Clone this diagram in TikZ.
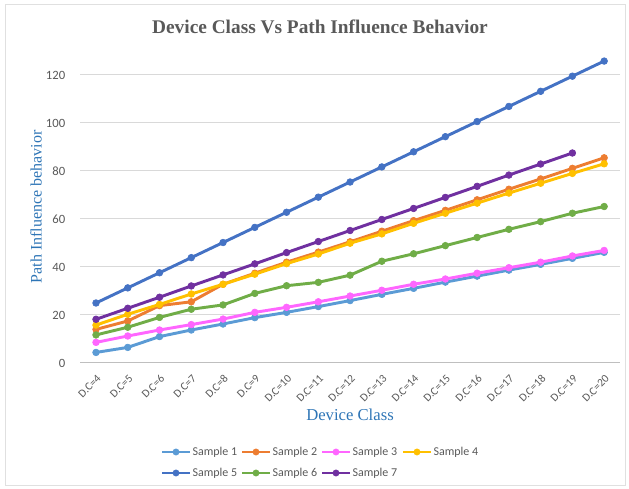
\documentclass[tikz,border=0pt]{standalone}
\usepackage{fontspec}
\setmainfont{Liberation Serif}
\newfontfamily\calibri{Carlito}

\definecolor{cinza}{HTML}{595959}
\definecolor{azultexto}{HTML}{2E75B6}
\definecolor{amostraA}{HTML}{5B9BD5}
\definecolor{amostraB}{HTML}{ED7D31}
\definecolor{amostraC}{HTML}{FF66FF}
\definecolor{amostraD}{HTML}{FFC000}
\definecolor{amostraE}{HTML}{4472C4}
\definecolor{amostraF}{HTML}{70AD47}
\definecolor{amostraG}{HTML}{7030A0}

\begin{document}
\begin{tikzpicture}[x=0.75pt,y=0.75pt,
		grade/.style={draw=black!15,line width=0.75pt},
		serie/.style={line width=2.2pt,line join=round,mark=*,mark size=2.5pt,
			mark options={line width=0.5pt}},
		rotulo/.style={font=\calibri\fontsize{9.5}{11}\selectfont,text=cinza},
		eixo/.style={font=\fontsize{12.5}{14}\selectfont,text=azultexto}]
			% Moldura do gráfico
			\useasboundingbox (0,0) rectangle (629,489);
			\draw[black!12,line width=0.75pt] (5,3) rectangle (625,484);
			
			% Título
			\node[font=\bfseries\fontsize{14.5}{17}\selectfont,text=cinza] (titulo) at (320,462)
				{Device Class Vs Path Influence Behavior};
			
			% Rótulos dos eixos
			\node[eixo,font=\fontsize{12}{14}\selectfont,rotate=90] (eixoy) at (36,282) {Path Influence behavior};
			\node[eixo] (eixox) at (350,74) {Device Class};
			
			% Área dos dados: uma unidade por classe, 2.4 px por unidade de valor
			\begin{scope}[shift={(72pt,94.5pt)},x=23.82pt,y=1.8pt]
				% Linhas de grade e valores
				\foreach \v in {20,40,...,120}
					\draw[grade] (-0.5,\v) -- (16.5,\v);
				\draw[black!25,line width=0.75pt] (-0.5,0) -- (16.5,0);
				\foreach \v in {0,20,...,120}
					\node[rotulo,anchor=east] (yt\v) at (-0.82,\v) {\v};
				
				% Classes no eixo x
				\foreach \i [evaluate=\i as \dc using int(\i+4)] in {0,...,16}
					\node[rotulo,font=\calibri\fontsize{8.5}{10}\selectfont,rotate=45,anchor=east,inner sep=0pt]
						(xt\i) at (\i+0.1,-5.8) {D.C=\dc};
				
				% Sample 1
				\draw[serie,amostraA] plot coordinates {(0,4.4) (1,6.5) (2,11.0) (3,13.75) (4,16.25)
					(5,18.9) (6,21.1) (7,23.5) (8,26.0) (9,28.6) (10,31.1) (11,33.7) (12,36.2)
					(13,38.7) (14,41.1) (15,43.6) (16,46.1)};
				% Sample 2
				\draw[serie,amostraB] plot coordinates {(0,14.0) (1,17.5) (2,23.9) (3,25.5) (4,32.8)
					(5,37.4) (6,42.0) (7,46.2) (8,50.5) (9,54.9) (10,59.3) (11,63.6) (12,68.0)
					(13,72.4) (14,76.7) (15,81.1) (16,85.5)};
				% Sample 3
				\draw[serie,amostraC] plot coordinates {(0,8.6) (1,11.25) (2,13.75) (3,16.0) (4,18.3)
					(5,21.1) (6,23.2) (7,25.5) (8,27.9) (9,30.3) (10,32.8) (11,35.0) (12,37.4)
					(13,39.7) (14,42.0) (15,44.6) (16,46.9)};
				% Sample 4
				\draw[serie,amostraD] plot coordinates {(0,15.8) (1,20.3) (2,24.4) (3,28.75) (4,32.8)
					(5,37.0) (6,41.4) (7,45.4) (8,49.9) (9,53.8) (10,58.2) (11,62.4) (12,66.6)
					(13,70.8) (14,74.9) (15,79.0) (16,83.0)};
				% Sample 5
				\draw[serie,amostraE] plot coordinates {(0,25.0) (1,31.3) (2,37.6) (3,43.9) (4,50.2)
					(5,56.5) (6,62.8) (7,69.1) (8,75.4) (9,81.7) (10,88.0) (11,94.3) (12,100.6)
					(13,106.9) (14,113.2) (15,119.5) (16,125.8)};
				% Sample 6
				\draw[serie,amostraF] plot coordinates {(0,11.7) (1,14.9) (2,19.0) (3,22.4) (4,24.2)
					(5,29.0) (6,32.2) (7,33.6) (8,36.6) (9,42.4) (10,45.5) (11,48.9) (12,52.3)
					(13,55.7) (14,58.9) (15,62.4) (16,65.2)};
				% Sample 7 (termina em D.C=19)
				\draw[serie,amostraG] plot coordinates {(0,18.2) (1,22.8) (2,27.4) (3,32.1) (4,36.7)
					(5,41.3) (6,46.0) (7,50.6) (8,55.2) (9,59.8) (10,64.4) (11,69.0) (12,73.6)
					(13,78.3) (14,82.9) (15,87.5)};
			\end{scope}
			
			% Legenda em duas linhas
			\foreach \n/\cor/\X/\Y in {1/amostraA/162/37, 2/amostraB/242/37, 3/amostraC/322/37,
				4/amostraD/403/37, 5/amostraE/162/16, 6/amostraF/242/16, 7/amostraG/322/16}{
				\draw[\cor,line width=2.2pt] (\X,\Y) -- (\X+28,\Y);
				\fill[\cor] (\X+14,\Y) circle (2.6pt);
				\node[rotulo,font=\calibri\fontsize{9}{11}\selectfont,anchor=west,inner sep=1pt]
					(leg\n) at (\X+29,\Y) {Sample \n};
			}
		\end{tikzpicture}
\end{document}
